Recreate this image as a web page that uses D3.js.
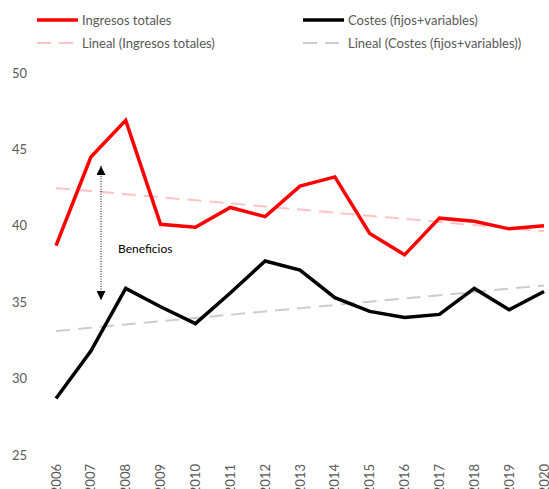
<!DOCTYPE html>
<html>
<head>
<meta charset="utf-8">
<script src="https://cdn.jsdelivr.net/npm/d3@7"></script>
<style>
  body { margin: 0; background: #fff; }
  text { font-family: Lato, "Open Sans", sans-serif; }
</style>
</head>
<body>
<div class="container"></div>
<script>
const width = 549;
const height = 489;

const years = ["2006","2007","2008","2009","2010","2011","2012","2013","2014","2015","2016","2017","2018","2019","2020"];
const ingresos = [38.7, 44.5, 46.9, 40.1, 39.9, 41.2, 40.6, 42.6, 43.2, 39.5, 38.1, 40.5, 40.3, 39.8, 40.0];
const costes = [28.7, 31.8, 35.9, 34.7, 33.6, 35.6, 37.7, 37.1, 35.3, 34.4, 34.0, 34.2, 35.9, 34.5, 35.7];
const yTicks = [25, 30, 35, 40, 45, 50];

const svg = d3.select(".container").append("svg").attr("width", width).attr("height", height);

const x = d3.scalePoint().domain(years).range([56, 544]);
const y = d3.scaleLinear().domain([25, 50]).range([455, 73]);

// linear trend (least squares), as the "Lineal" trendline
function trend(values) {
  const n = values.length;
  const mx = (n - 1) / 2;
  const my = d3.mean(values);
  let sxy = 0, sxx = 0;
  values.forEach((v, i) => { sxy += (i - mx) * (v - my); sxx += (i - mx) * (i - mx); });
  const b = sxy / sxx;
  return values.map((v, i) => my + b * (i - mx));
}

const line = d3.line().x((d, i) => x(years[i])).y(d => y(d));

// y labels
svg.append("g").selectAll("text")
  .data(yTicks)
  .enter().append("text")
    .attr("x", 27).attr("y", d => y(d)).attr("dy", "0.35em")
    .attr("text-anchor", "end")
    .attr("fill", "#595959").attr("font-size", 13)
    .text(d => d);

// x labels (run off the bottom edge, as in the original)
svg.append("g").selectAll("text")
  .data(years)
  .enter().append("text")
    .attr("transform", d => `translate(${x(d)},464) rotate(-90)`)
    .attr("dy", "0.35em")
    .attr("text-anchor", "end")
    .attr("fill", "#595959").attr("font-size", 13)
    .text(d => d);

// trend lines
svg.append("path").attr("d", line(trend(ingresos)))
  .attr("fill", "none").attr("stroke", "#ffc3c3").attr("stroke-width", 2)
  .attr("stroke-dasharray", "14,8");
svg.append("path").attr("d", line(trend(costes)))
  .attr("fill", "none").attr("stroke", "#cccccc").attr("stroke-width", 2)
  .attr("stroke-dasharray", "14,8");

// main lines
svg.append("path").attr("d", line(ingresos))
  .attr("fill", "none").attr("stroke", "#ff0000").attr("stroke-width", 3.5)
  .attr("stroke-linejoin", "miter");
svg.append("path").attr("d", line(costes))
  .attr("fill", "none").attr("stroke", "#000000").attr("stroke-width", 3.5)
  .attr("stroke-linejoin", "miter");

// annotation arrow
const defs = svg.append("defs");
defs.append("marker").attr("id", "arrow")
  .attr("viewBox", "0 0 10 10").attr("refX", 10).attr("refY", 5)
  .attr("markerWidth", 9).attr("markerHeight", 9).attr("markerUnits", "userSpaceOnUse")
  .attr("orient", "auto-start-reverse")
  .append("path").attr("d", "M0,0L10,5L0,10Z").attr("fill", "#000");

svg.append("line")
  .attr("x1", 101).attr("x2", 101).attr("y1", 166).attr("y2", 300)
  .attr("stroke", "#000").attr("stroke-width", 1).attr("stroke-dasharray", "1,1.5")
  .attr("marker-start", "url(#arrow)").attr("marker-end", "url(#arrow)");

svg.append("text").attr("x", 118).attr("y", 249).attr("dy", "0.35em")
  .attr("font-size", 12).attr("fill", "#000").text("Beneficios");

// legend
const legend = [
  { label: "Ingresos totales", color: "#ff0000", w: 3.5, dash: null, lx: 37, ly: 20 },
  { label: "Costes (fijos+variables)", color: "#000000", w: 3.5, dash: null, lx: 303, ly: 20 },
  { label: "Lineal (Ingresos totales)", color: "#ffc3c3", w: 2, dash: "14,8", lx: 37, ly: 43 },
  { label: "Lineal (Costes (fijos+variables))", color: "#cccccc", w: 2, dash: "14,8", lx: 303, ly: 43 }
];
const lg = svg.append("g").selectAll("g").data(legend).enter().append("g")
  .attr("transform", d => `translate(${d.lx},${d.ly})`);
lg.append("line").attr("x1", 0).attr("x2", 41)
  .attr("stroke", d => d.color).attr("stroke-width", d => d.w)
  .attr("stroke-dasharray", d => d.dash);
lg.append("text").attr("x", 45).attr("dy", "0.35em")
  .attr("font-size", 13).attr("fill", "#595959").text(d => d.label);
</script>
</body>
</html>
